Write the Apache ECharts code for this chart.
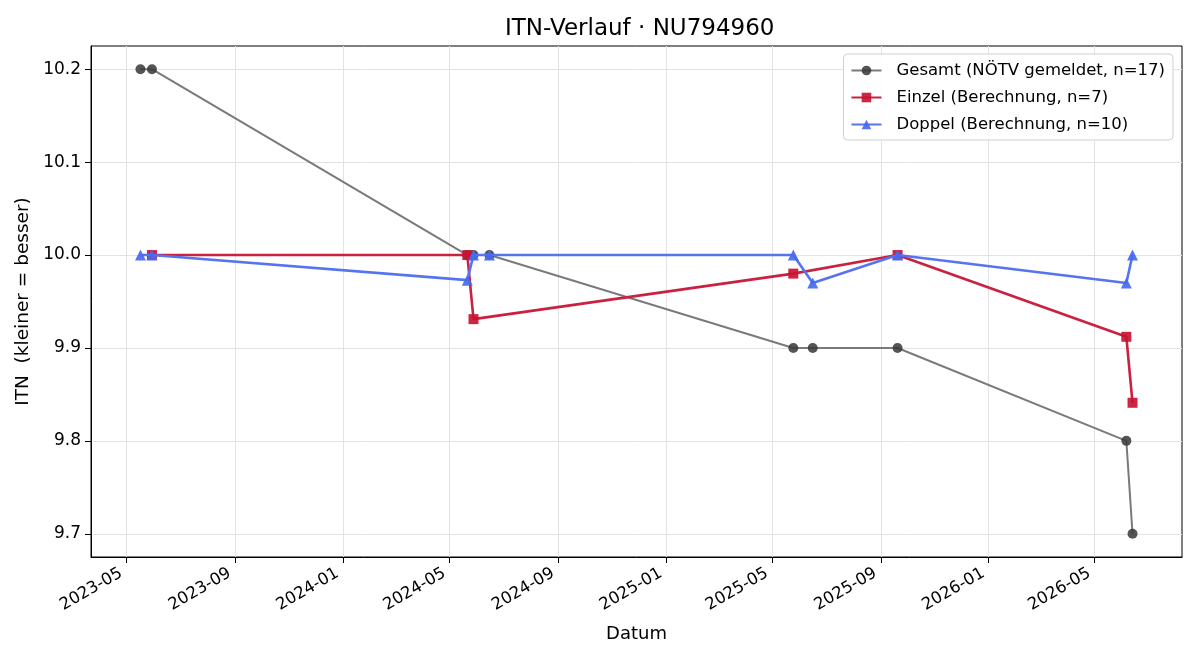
<!DOCTYPE html>
<html>
<head>
<meta charset="utf-8">
<script src="https://cdn.jsdelivr.net/npm/echarts@6/dist/echarts.min.js"></script>
<style>html,body{margin:0;padding:0;background:#fff}#c{width:1200px;height:660px}</style>
</head>
<body>
<div id="c"></div>
<script>
const gesamtDates = ['2023-05-17','2023-05-30','2024-05-21','2024-05-28','2024-06-15','2025-05-25','2025-06-16','2025-09-20','2026-06-06','2026-06-13'];
const gesamtValues = [10.2, 10.2, 10.0, 10.0, 10.0, 9.9, 9.9, 9.9, 9.8, 9.7];
const einzelDates = ['2023-05-30','2024-05-21','2024-05-28','2025-05-25','2025-09-20','2026-06-06','2026-06-13'];
const einzelValues = [10.0, 10.0, 9.931, 9.98, 10.0, 9.912, 9.841];
const doppelDates = ['2023-05-17','2023-05-30','2024-05-21','2024-05-28','2024-06-15','2025-05-25','2025-06-16','2025-09-20','2026-06-06','2026-06-13'];
const doppelValues = [10.0, 10.0, 9.973, 10.0, 10.0, 10.0, 9.97, 10.0, 9.97, 10.0];
const xTicks = ['2023-05-01','2023-09-01','2024-01-01','2024-05-01','2024-09-01','2025-01-01','2025-05-01','2025-09-01','2026-01-01','2026-05-01'];
const yTicks = [9.7, 9.8, 9.9, 10.0, 10.1, 10.2];
const xMin = '2023-03-22', xMax = '2026-08-08';
const yMin = 9.675, yMax = 10.225;

const FONT = 'DejaVu Sans';
const ts = s => Date.parse(s + 'T00:00:00Z');
const pairs = (d, v) => d.map((s, i) => [ts(s), v[i]]);
const pad = n => (n < 10 ? '0' : '') + n;

const chart = echarts.init(document.getElementById('c'), null, {renderer: 'canvas'});
chart.setOption({
  animation: false,
  backgroundColor: '#fff',
  textStyle: {fontFamily: FONT},
  title: {
    text: 'ITN-Verlauf · NU794960', left: 500, top: 13,
    textStyle: {fontFamily: FONT, fontSize: 23, fontWeight: 'normal', color: '#000'}
  },
  grid: {left: 91, right: 18, top: 46, bottom: 103, show: true, borderColor: '#000', borderWidth: 1, backgroundColor: 'transparent'},
  legend: {
    orient: 'vertical', right: 27, top: 54,
    backgroundColor: 'rgba(255,255,255,0.85)', borderColor: '#d0d0d0', borderWidth: 1, borderRadius: 4,
    padding: [8, 8, 7, 7], itemWidth: 30, itemHeight: 12, itemGap: 10,
    textStyle: {fontFamily: FONT, fontSize: 16.5, color: '#000', padding: [0, 0, 0, 10]},
    data: ['Gesamt (NÖTV gemeldet, n=17)', 'Einzel (Berechnung, n=7)', 'Doppel (Berechnung, n=10)']
  },
  xAxis: {
    type: 'value', min: ts(xMin), max: ts(xMax),
    name: 'Datum', nameLocation: 'middle', nameGap: 68,
    nameTextStyle: {fontFamily: FONT, fontSize: 18, color: '#000'},
    axisLine: {show: true, onZero: false, lineStyle: {color: '#000', width: 1}},
    axisTick: {show: true, length: 6, inside: false, lineStyle: {color: '#000'}, customValues: xTicks.map(ts)},
    axisLabel: {
      customValues: xTicks.map(ts), rotate: 30, margin: 12, padding: [0, 6, 0, 0], color: '#000', fontFamily: FONT, fontSize: 16.5,
      hideOverlap: false,
      formatter: v => { const d = new Date(v); return d.getUTCFullYear() + '-' + pad(d.getUTCMonth() + 1); }
    },
    splitLine: {show: true, lineStyle: {color: '#e3e3e3', width: 1}}
  },
  yAxis: {
    type: 'value', min: yMin, max: yMax,
    name: 'ITN  (kleiner = besser)', nameLocation: 'middle', nameGap: 56,
    nameTextStyle: {fontFamily: FONT, fontSize: 18.5, color: '#000'},
    axisLine: {show: true, onZero: false, lineStyle: {color: '#000', width: 1}},
    axisTick: {show: true, length: 6, inside: false, lineStyle: {color: '#000'}, customValues: yTicks},
    axisLabel: {customValues: yTicks, margin: 10, color: '#000', fontFamily: FONT, fontSize: 17, formatter: v => v.toFixed(1)},
    splitLine: {show: true, lineStyle: {color: '#e3e3e3', width: 1}}
  },
  series: [
    {
      name: 'Gesamt (NÖTV gemeldet, n=17)', type: 'line', data: pairs(gesamtDates, gesamtValues),
      symbol: 'circle', symbolSize: 10,
      lineStyle: {color: '#7a7a7a', width: 2},
      itemStyle: {color: 'rgba(55,55,55,0.85)'},
      z: 2
    },
    {
      name: 'Einzel (Berechnung, n=7)', type: 'line', data: pairs(einzelDates, einzelValues),
      symbol: 'rect', symbolSize: 10,
      lineStyle: {color: '#c9213f', width: 2.6},
      itemStyle: {color: 'rgba(200,20,50,0.92)'},
      z: 3
    },
    {
      name: 'Doppel (Berechnung, n=10)', type: 'line', data: pairs(doppelDates, doppelValues),
      symbol: 'triangle', symbolSize: 11,
      lineStyle: {color: '#5674ef', width: 2.6},
      itemStyle: {color: 'rgba(70,105,240,0.92)'},
      z: 4
    }
  ]
});
</script>
</body>
</html>
